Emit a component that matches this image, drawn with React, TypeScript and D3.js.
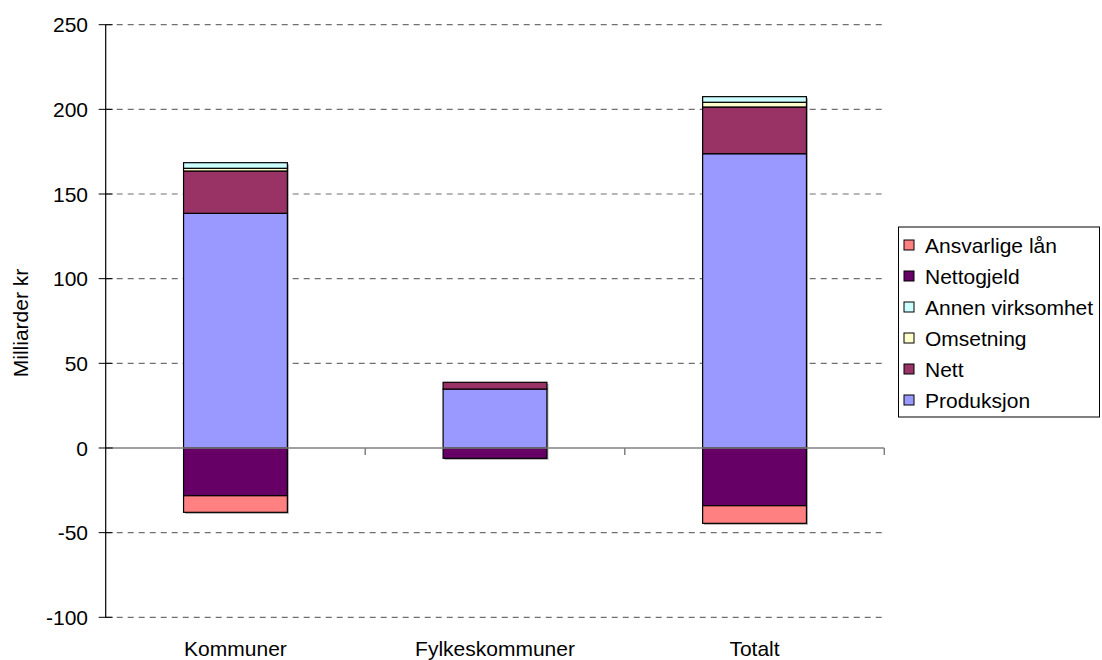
import React from "react";
import * as d3 from "d3";

// Categories and stacked series (milliarder kr)
const categories = ["Kommuner", "Fylkeskommuner", "Totalt"];
const produksjon = [138.6, 34.8, 173.8];
const nett = [25.0, 4.0, 27.6];
const omsetning = [1.6, 0, 2.8];
const annenVirksomhet = [3.3, 0, 3.3];
const nettogjeld = [-28.2, -6.1, -34.1];
const ansvarligeLan = [-9.8, 0, -10.4];

const yTicks = [-100, -50, 0, 50, 100, 150, 200, 250];

const seriesKeys = ["Produksjon", "Nett", "Omsetning", "Annen virksomhet", "Nettogjeld", "Ansvarlige lån"];
const seriesValues: Record<string, number[]> = {
  Produksjon: produksjon,
  Nett: nett,
  Omsetning: omsetning,
  "Annen virksomhet": annenVirksomhet,
  Nettogjeld: nettogjeld,
  "Ansvarlige lån": ansvarligeLan,
};
const seriesColors: Record<string, string> = {
  Produksjon: "#9999FF",
  Nett: "#993366",
  Omsetning: "#FFFFCC",
  "Annen virksomhet": "#CCFFFF",
  Nettogjeld: "#660066",
  "Ansvarlige lån": "#FF8080",
};
const legendOrder = ["Ansvarlige lån", "Nettogjeld", "Annen virksomhet", "Omsetning", "Nett", "Produksjon"];

const W = 1102;
const H = 660;
const plot = { left: 105.7, right: 884.3, top: 24.7, bottom: 617.3 };
const FONT = "'Liberation Sans', Arial, sans-serif";
const FS = 21;

export default function App() {
  const x = d3.scaleBand<string>().domain(categories).range([plot.left, plot.right]).paddingInner(0.6).paddingOuter(0.3);
  const y = d3.scaleLinear().domain([-100, 250]).range([plot.bottom, plot.top]);

  const rows = categories.map((c, i) => {
    const r: Record<string, number | string> = { category: c };
    seriesKeys.forEach((k) => (r[k] = seriesValues[k][i]));
    return r;
  });
  const stacked = d3
    .stack<Record<string, number | string>>()
    .keys(seriesKeys)
    .value((d, k) => d[k] as number)
    .offset(d3.stackOffsetDiverging)(rows);

  const band = x.bandwidth();
  const step = (plot.right - plot.left) / categories.length;
  const catTicks = d3.range(1, categories.length + 1).map((i) => plot.left + i * step);

  // overall extents per category for the drop shadow
  const extents = categories.map((_, i) => {
    const ends = stacked.map((s) => s[i][0]).concat(stacked.map((s) => s[i][1]));
    return [d3.min(ends) as number, d3.max(ends) as number];
  });

  return (
    <svg width={W} height={H} style={{ position: "absolute", left: 0, top: 0, background: "#fff" }} fontFamily={FONT}>
      {/* gridlines */}
      {yTicks.filter((t) => t !== 0).map((t) => (
        <line key={t} x1={plot.left} x2={plot.right} y1={y(t)} y2={y(t)} stroke="#707070" strokeWidth={1.2} strokeDasharray="6,5" />
      ))}

      {/* bar shadows */}
      {categories.map((c, i) => (
        <rect key={c} x={(x(c) as number) + 1.5} y={y(extents[i][1]) + 1.5} width={band} height={y(extents[i][0]) - y(extents[i][1])} fill="#a8a8a8" />
      ))}

      {/* stacked bars */}
      {stacked.map((s) => (
        <g key={s.key} fill={seriesColors[s.key]} stroke="#000" strokeWidth={1.2}>
          {s.map((d, i) =>
            d[1] - d[0] !== 0 ? (
              <rect key={i} x={x(categories[i])} y={y(Math.max(d[0], d[1]))} width={band} height={Math.abs(y(d[0]) - y(d[1]))} />
            ) : null
          )}
        </g>
      ))}

      {/* zero line and category ticks */}
      <line x1={plot.left} x2={plot.right} y1={y(0)} y2={y(0)} stroke="#808080" strokeWidth={1.5} />
      {catTicks.map((t) => (
        <line key={t} x1={t} x2={t} y1={y(0)} y2={y(0) + 7} stroke="#808080" strokeWidth={1.5} />
      ))}

      {/* y axis */}
      <line x1={plot.left} x2={plot.left} y1={plot.top} y2={plot.bottom} stroke="#000" strokeWidth={1.2} />
      {yTicks.map((t) => (
        <g key={t}>
          <line x1={plot.left - 7} x2={plot.left + 7} y1={y(t)} y2={y(t)} stroke="#000" strokeWidth={1} />
          <text x={88} y={y(t)} dy="0.36em" textAnchor="end" fontSize={FS} fill="#000">
            {t}
          </text>
        </g>
      ))}
      <text transform={`translate(28,${(plot.top + plot.bottom) / 2 + 2}) rotate(-90)`} textAnchor="middle" fontSize={FS} fill="#000">
        Milliarder kr
      </text>

      {/* category labels */}
      {categories.map((c) => (
        <text key={c} x={(x(c) as number) + band / 2} y={656} textAnchor="middle" fontSize={FS} fill="#000">
          {c}
        </text>
      ))}

      {/* legend */}
      <rect x={898.5} y={227} width={201} height={190} fill="#fff" stroke="#000" strokeWidth={1} />
      {legendOrder.map((k, i) => {
        const cy = 245 + i * 31;
        return (
          <g key={k}>
            <rect x={904} y={cy - 5} width={10} height={10} fill={seriesColors[k]} stroke="#000" strokeWidth={1} />
            <text x={925} y={cy} dy="0.36em" fontSize={FS} fill="#000">
              {k}
            </text>
          </g>
        );
      })}
    </svg>
  );
}
